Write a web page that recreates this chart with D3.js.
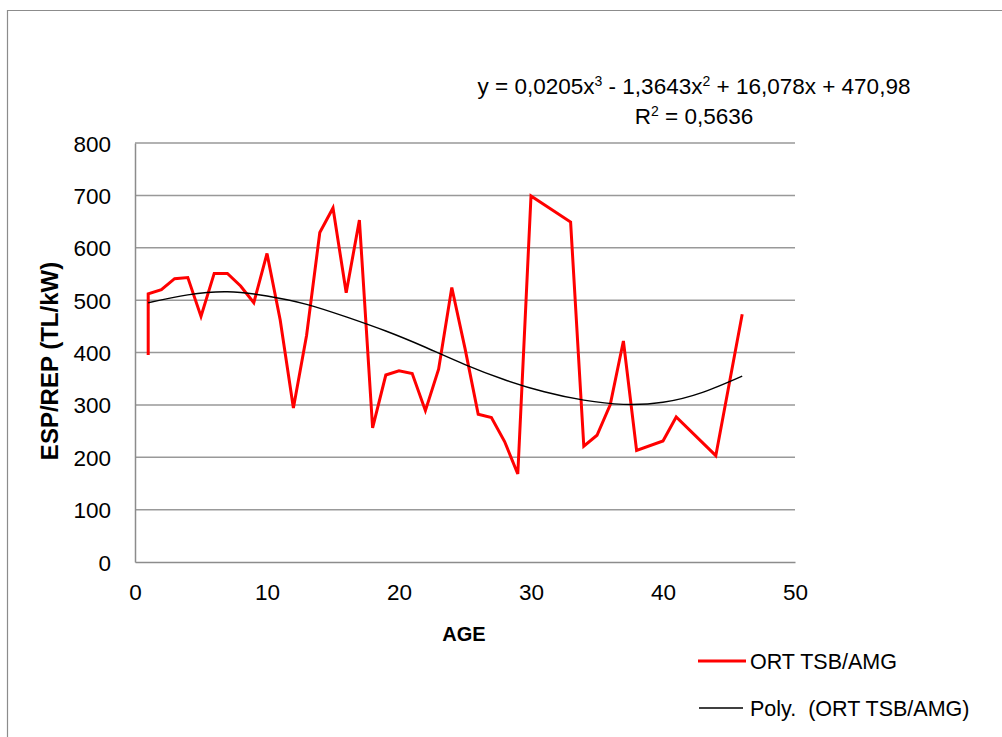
<!DOCTYPE html>
<html>
<head>
<meta charset="utf-8">
<script src="https://cdn.jsdelivr.net/npm/d3@7"></script>
<style>
  html, body { margin: 0; padding: 0; background: #fff; }
  svg { display: block; font-family: "Liberation Sans", Arial, sans-serif; }
</style>
</head>
<body>
<svg id="chart" width="1002" height="737"></svg>
<script>
// ---- data ----
const ages = [1,1,2,3,4,5,6,7,8,9,10,11,12,13,14,15,16,17,18,19,20,21,22,23,24,25,26,27,28,29,30,33,34,35,36,37,38,40,41,44,46];
const espRep = [395,512,520,541,543,469,551,551,527,495,589,462,294,433,629,676,514,653,256,357,365,360,289,368,524,408,282,276,230,168,699,649,221,242,300,422,213,231,277,203,473];
// polynomial trendline as drawn
const trendAges = [1,4,7,10,13,16,19,22,25,28,31,34,37,40,43,46];
const trendValues = [495,510,516,508,492,468,441,410,377,348,325,309,301,305,324,355];
const xTicks = [0,10,20,30,40,50];
const yTicks = [0,100,200,300,400,500,600,700,800];
const seriesName = "ORT TSB/AMG";
const trendName = "Poly.  (ORT TSB/AMG)";
const equationText = ["y = 0,0205x", "3", " - 1,3643x", "2", " + 16,078x + 470,98"];
const r2Text = ["R", "2", " = 0,5636"];
const xTitle = "AGE";
const yTitle = "ESP/REP (TL/kW)";

const svg = d3.select("#chart");
const plot = {left: 135, right: 795, top: 143, bottom: 562};

const x = d3.scaleLinear().domain([0, 50]).range([plot.left, plot.right]);
const y = d3.scaleLinear().domain([0, 800]).range([plot.bottom, plot.top]);

// outer chart frame
svg.append("path")
  .attr("d", "M7.5,737 L7.5,10.5 L1002,10.5")
  .attr("fill", "none").attr("stroke", "#8c8c8c").attr("stroke-width", 1.2);

// gridlines
svg.append("g").selectAll("line").data(yTicks.filter(d => d > 0)).join("line")
  .attr("x1", plot.left).attr("x2", plot.right)
  .attr("y1", d => y(d)).attr("y2", d => y(d))
  .attr("stroke", "#999").attr("stroke-width", 1.5);

// axes
const yAxis = svg.append("g").attr("transform", `translate(${plot.left},0)`)
  .call(d3.axisLeft(y).tickValues(yTicks).tickSize(0).tickPadding(24).tickFormat(d3.format("d")));
const xAxis = svg.append("g").attr("transform", `translate(0,${plot.bottom})`)
  .call(d3.axisBottom(x).tickValues(xTicks).tickSize(0).tickPadding(22).tickFormat(d3.format("d")));
[yAxis, xAxis].forEach(a => {
  a.select(".domain").attr("stroke", "#8c8c8c").attr("stroke-width", 1.5);
  a.selectAll("text").attr("fill", "#000").style("font-size", "22.5px")
    .style("font-family", "'Liberation Sans', Arial, sans-serif");
});
yAxis.selectAll("text").attr("dy", "0.36em");

// axis titles
svg.append("text").attr("x", 464).attr("y", 641).attr("text-anchor", "middle")
  .style("font-size", "20px").style("font-weight", "bold").text(xTitle);
svg.append("text").attr("transform", "translate(58,361) rotate(-90)").attr("text-anchor", "middle")
  .style("font-size", "24px").style("font-weight", "bold").text(yTitle);

// series line
const line = d3.line().x((d, i) => x(ages[i])).y(d => y(d));
svg.append("path").datum(espRep)
  .attr("d", line).attr("fill", "none").attr("stroke", "#ff0000")
  .attr("stroke-width", 3).attr("stroke-linejoin", "miter");

// trendline
const tline = d3.line().x((d, i) => x(trendAges[i])).y(d => y(d)).curve(d3.curveNatural);
svg.append("path").datum(trendValues)
  .attr("d", tline).attr("fill", "none").attr("stroke", "#000").attr("stroke-width", 1.4);

// equation label
function richText(parts, cx, cy, size) {
  const t = svg.append("text").attr("x", cx).attr("y", cy).attr("text-anchor", "middle")
    .style("font-size", size + "px");
  parts.forEach((p, i) => {
    const sup = i % 2 === 1;
    t.append("tspan").text(p)
      .style("font-size", sup ? "14px" : size + "px")
      .attr("dy", sup ? -8 : (i > 0 ? 8 : 0));
  });
}
richText(equationText, 694, 94, 22.5);
richText(r2Text, 694, 124, 22.5);

// legend
const legend = svg.append("g");
legend.append("line").attr("x1", 698).attr("x2", 746).attr("y1", 661).attr("y2", 661)
  .attr("stroke", "#ff0000").attr("stroke-width", 3);
legend.append("text").attr("x", 750).attr("y", 661).attr("dy", "0.36em")
  .style("font-size", "21.5px").text(seriesName);
legend.append("line").attr("x1", 699).attr("x2", 743).attr("y1", 708).attr("y2", 708)
  .attr("stroke", "#000").attr("stroke-width", 1.4);
legend.append("text").attr("x", 750).attr("y", 708).attr("dy", "0.36em")
  .style("font-size", "21.5px").style("white-space", "pre").attr("xml:space", "preserve").text(trendName);
</script>
</body>
</html>
